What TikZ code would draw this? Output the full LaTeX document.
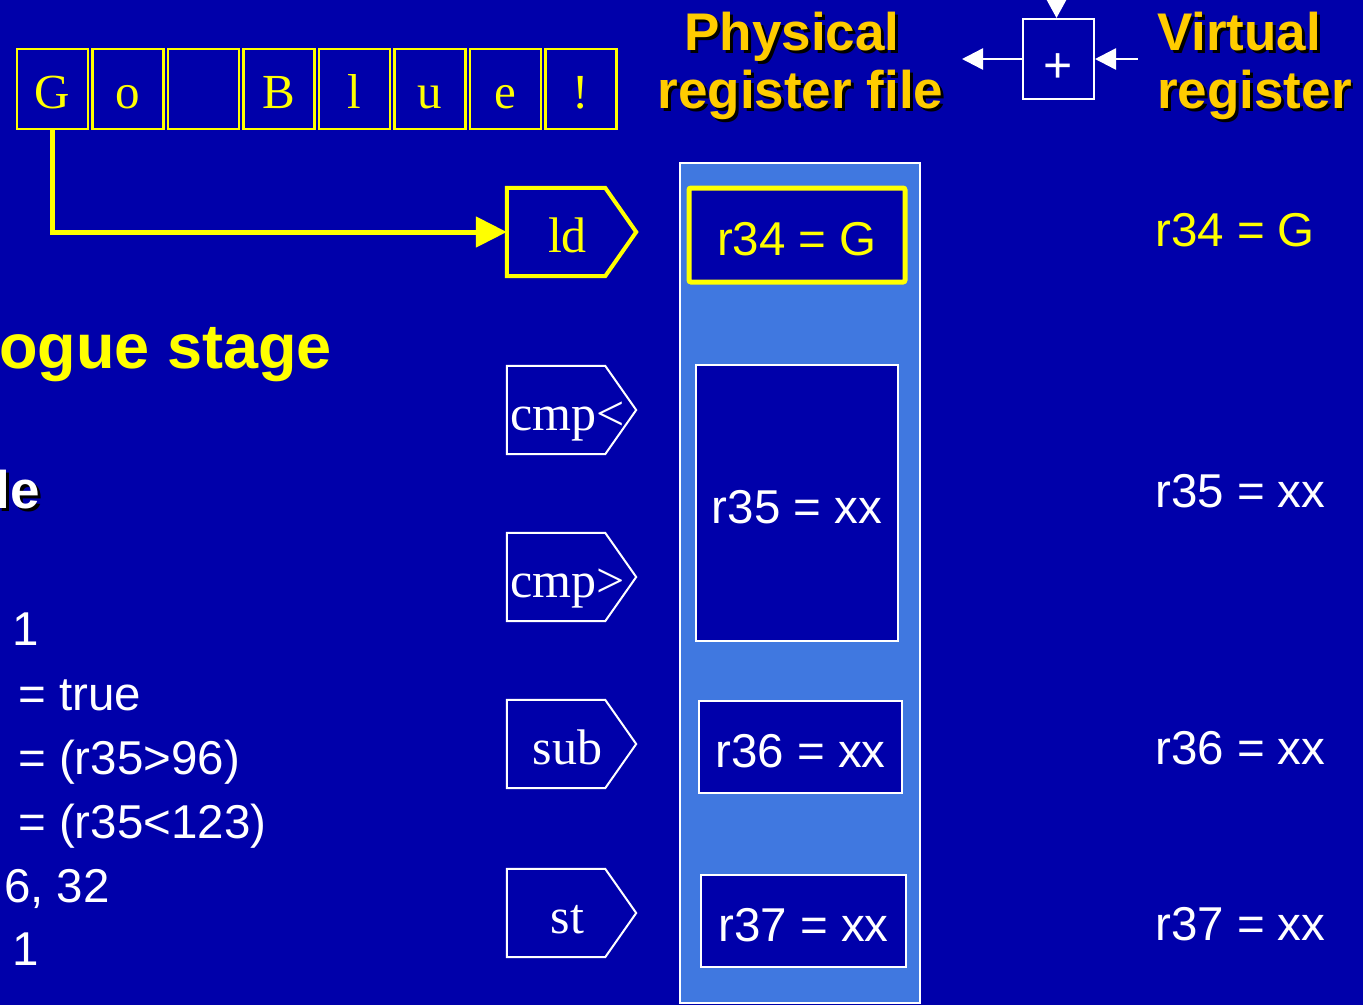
\documentclass[tikz,border=0pt]{standalone}
\usepackage{fontspec}
\setmainfont{Liberation Serif}
\newfontfamily\sansf{Liberation Sans}
\newfontfamily\serff{Liberation Serif}
\usetikzlibrary{arrows.meta}
\definecolor{bg}{HTML}{0000AA}
\definecolor{panel}{HTML}{4078E0}
\definecolor{gold}{HTML}{FFCC00}
\definecolor{yel}{HTML}{FFFF00}
\newcommand\tagshape[2]{\draw[#2] (#1.north west) -- ([xshift=-23pt]#1.north east) -- ([xshift=8pt]#1.east) -- ([xshift=-23pt]#1.south east) -- (#1.south west) -- cycle;}
\begin{document}
\begin{tikzpicture}[x=1pt,y=-1pt,
  every node/.style={inner sep=0pt},
  charbox/.style={draw=yel, line width=2.5pt, minimum width=71pt, minimum height=80pt,
    font=\serff\fontsize{49}{58}\selectfont, text=yel, text height=38pt, text depth=0pt},
  tagbox/.style={minimum width=121pt, minimum height=88pt, text height=40pt, text depth=0pt,
    font=\serff\fontsize{50}{60}\selectfont, text=white},
  regbox/.style={draw=white, line width=2pt, fill=bg, text=white,
    font=\sansf\fontsize{47.5}{56}\selectfont, text height=40pt, text depth=0pt},
  codetext/.style={font=\sansf\fontsize{47.5}{56}\selectfont, text=white},
  titletext/.style={font=\sansf\bfseries\fontsize{53}{62}\selectfont, text=gold},
  shadowtext/.style={font=\sansf\bfseries\fontsize{53}{62}\selectfont, text=black},
  wire/.style={white, line width=2.5pt}
]
\useasboundingbox (0,0) rectangle (1363,1005);
\fill[bg] (0,0) rectangle (1363,1005);
\clip (0,0) rectangle (1363,1005);

% character boxes
\node[charbox] (c1) at (52.5,89) {G};
\node[charbox] (c2) at (128,89) {o};
\node[charbox] (c3) at (203.5,89) {};
\node[charbox] (c4) at (279,89) {B};
\node[charbox] (c5) at (354.5,89) {l};
\node[charbox] (c6) at (430,89) {u};
\node[charbox] (c7) at (505.5,89) {e};
\node[charbox] (c8) at (581,89) {!};

% titles
\node[shadowtext, anchor=base] (physS) at (795,53) {Physical};
\node[titletext, anchor=base] (phys) at (792,50) {Physical};
\node[shadowtext, anchor=base] (regfS) at (803.5,111) {register file};
\node[titletext, anchor=base] (regf) at (800.5,108) {register file};
\node[shadowtext, anchor=base west] (virtS) at (1160,53) {Virtual};
\node[titletext, anchor=base west] (virt) at (1157,50) {Virtual};
\node[shadowtext, anchor=base west] (vregS) at (1160,111) {register};
\node[titletext, anchor=base west] (vreg) at (1157,108) {register};

% adder
\node[draw=white, line width=2pt, minimum width=71pt, minimum height=80pt, text=white,
  font=\sansf\fontsize{50}{58}\selectfont, text height=47pt, text depth=0pt] (plus) at (1058.5,59) {+};
\coordinate (outL) at (962,59);
\coordinate (inR) at (1138,59);
\coordinate (inT) at (1056.5,-40);
\draw[wire, -{Triangle[length=21pt,width=21pt]}] (plus.west) -- (outL);
\draw[wire, -{Triangle[length=21pt,width=21pt]}] (inR) -- (plus.east);
\draw[wire, -{Triangle[length=19pt,width=20pt]}] (inT) -- (inT |- plus.north);

% register file panel
\node[draw=white, line width=1.5pt, fill=panel, minimum width=240pt, minimum height=840pt] (rf) at (800,583) {};
\node[regbox, draw=yel, line width=5pt, text=yel, rounded corners=2pt, minimum width=216pt, minimum height=94pt] (r34) at (797,235) {r34 = G};
\node[regbox, minimum width=202pt, minimum height=276pt] (r35) at (797,503) {r35 = xx};
\node[regbox, minimum width=203pt, minimum height=92pt] (r36) at (800.5,747) {r36 = xx};
\node[regbox, minimum width=205pt, minimum height=92pt] (r37) at (803.5,921) {r37 = xx};

% instruction tags
\node[tagbox, text=yel] (ld) at (567.5,232) {ld};
\tagshape{ld}{yel, line width=4pt}
\node[tagbox] (cmplt) at (567.5,410) {cmp<};
\tagshape{cmplt}{white, line width=2pt}
\node[tagbox] (cmpgt) at (567.5,577) {cmp>};
\tagshape{cmpgt}{white, line width=2pt}
\node[tagbox] (sub) at (567.5,744) {sub};
\tagshape{sub}{white, line width=2pt}
\node[tagbox] (st) at (567.5,913) {st};
\tagshape{st}{white, line width=2pt}

% connector G -> ld
\draw[yel, line width=5pt, -{Triangle[length=31pt,width=30pt]}] (c1.south) |- (ld.west);

% virtual register column
\node[codetext, text=yel, anchor=base west] (v34) at (1155,246) {r34 = G};
\node[codetext, anchor=base west] (v35) at (1155,507) {r35 = xx};
\node[codetext, anchor=base west] (v36) at (1155,764) {r36 = xx};
\node[codetext, anchor=base west] (v37) at (1155,940) {r37 = xx};

% left cut-off text
\node[font=\sansf\bfseries\fontsize{63}{74}\selectfont, text=yel, anchor=base west] (ogue) at (-1,368) {ogue stage};
\node[shadowtext, anchor=base east] (leS) at (43,511) {le};
\node[shadowtext, text=white, anchor=base east] (le) at (40,508) {le};
\node[codetext, anchor=base west] (l1) at (12,645) {1};
\node[codetext, anchor=base west] (l2) at (18,710) {= true};
\node[codetext, anchor=base west] (l3) at (18,774) {= (r35>96)};
\node[codetext, anchor=base west] (l4) at (18,838) {= (r35<123)};
\node[codetext, anchor=base east] (l5) at (110,902) {6, 32};
\node[codetext, anchor=base west] (l6) at (12,965) {1};
\end{tikzpicture}
\end{document}
